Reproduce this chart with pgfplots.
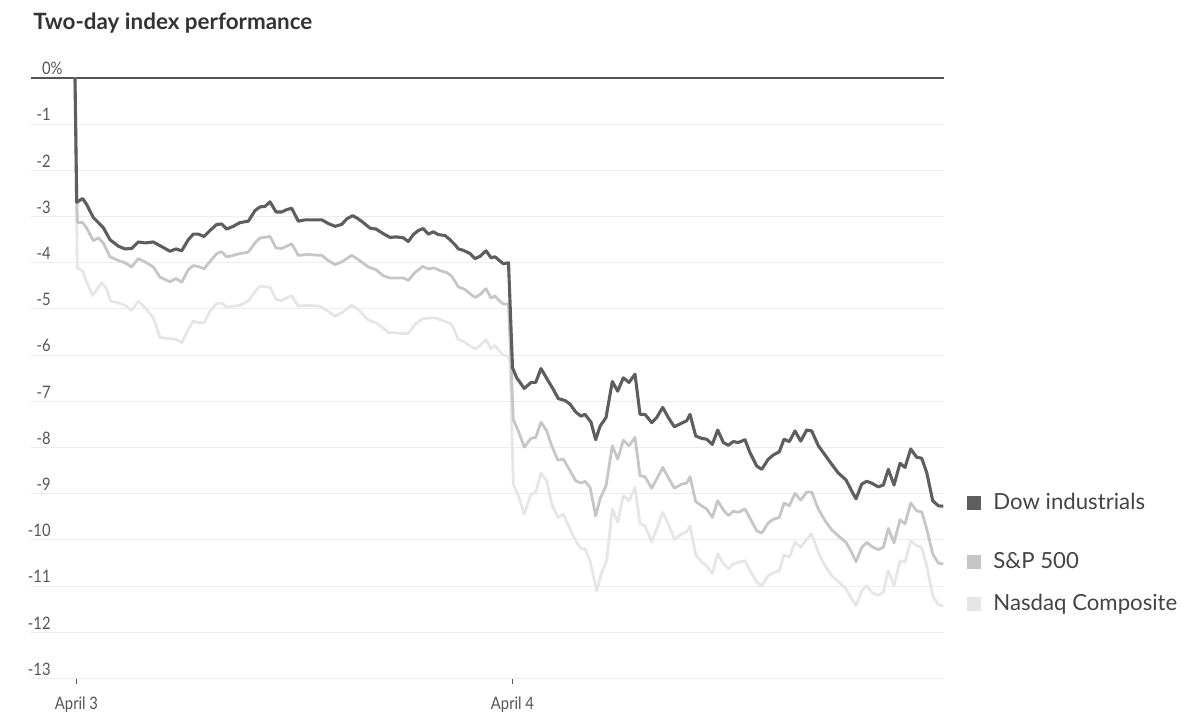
\documentclass[border=0pt]{standalone}
\usepackage{pgfplots}
\pgfplotsset{compat=1.18}
\usepackage{fontspec}
\setmainfont{Lato}
\newfontfamily\narrowfont[FakeStretch=0.86]{Lato}
\definecolor{dowc}{HTML}{5E5E5E}
\definecolor{spc}{HTML}{C6C6C6}
\definecolor{nasc}{HTML}{E6E6E6}
\definecolor{gridc}{HTML}{EDEDED}
\definecolor{zeroc}{HTML}{555555}
\definecolor{labc}{HTML}{555555}
\definecolor{titc}{HTML}{333333}
\definecolor{legc}{HTML}{444444}
\begin{document}
\begin{tikzpicture}
\path[use as bounding box] (0,0) rectangle (598.5pt,357.5pt);
\begin{axis}[
  at={(15.5pt,18.2pt)}, anchor=south west,
  scale only axis, width=456.5pt, height=300.3pt,
  xmin=-44, xmax=869, ymin=-13, ymax=0,
  axis line style={draw=none},
  ytick={-13,-12,-11,-10,-9,-8,-7,-6,-5,-4,-3,-2,-1,0},
  yticklabels={-13,-12,-11,-10,-9,-8,-7,-6,-5,-4,-3,-2,-1,0\rlap{\%}},
  ymajorgrids, grid style={draw=gridc, line width=0.5pt},
  ytick style={draw=none},
  xtick={1.5,437.5}, xticklabels={April 3,April 4},
  xtick pos=bottom,
  xtick style={draw=labc, line width=0.5pt},
  tick align=outside, major tick length=2.5pt,
  xticklabel style={font=\narrowfont\fontsize{8.6}{10}\selectfont, text=labc, anchor=north, yshift=-3pt},
  yticklabel style={font=\narrowfont\fontsize{8.6}{10}\selectfont, text=labc, anchor=base east, inner sep=0pt, xshift=12.5pt, yshift=1.6pt},
  clip=false,
]
\addplot[draw=zeroc, line width=1pt] coordinates {(-44,0) (869,0)};
% Nasdaq Composite
\addplot[draw=nasc, line width=1.4pt, line join=round] coordinates {
(0,0) (2.3,-4.11) (7.7,-4.18) (11.7,-4.43) (17.7,-4.71) (21.7,-4.58) (26.7,-4.43) (31,-4.54) (35.7,-4.83) (43.3,-4.87) (50,-4.92) (56.7,-5.03) (63.3,-4.83) (70,-4.97) (78.3,-5.19) (85,-5.62) (95,-5.64) (101,-5.66) (106.7,-5.73) (113.3,-5.44) (118.3,-5.26) (123.3,-5.30) (129,-5.30) (135,-5.05) (141.7,-4.88) (146.7,-4.87) (151.7,-4.96) (158.3,-4.94) (165,-4.92) (173.3,-4.83) (180,-4.62) (185,-4.51) (195,-4.53) (201,-4.79) (206.7,-4.82) (211.7,-4.76) (216.7,-4.71) (223.3,-4.94) (231.7,-4.92) (245,-4.94) (253.3,-5.05) (260,-5.16) (266.7,-5.08) (276.7,-4.92) (283.3,-5.01) (293.3,-5.24) (301,-5.30) (308.3,-5.41) (313.3,-5.51) (328.3,-5.53) (333.3,-5.53) (340,-5.33) (347.7,-5.21) (359.3,-5.19) (366.7,-5.24) (376.7,-5.33) (383.3,-5.66) (390,-5.72) (395,-5.80) (400,-5.86) (405,-5.80) (411,-5.66) (416,-5.86) (420,-5.79) (424.3,-5.91) (428.3,-6.00) (432.7,-6.02) (435,-6.09)
(438.3,-8.79) (443.3,-9.04) (449.3,-9.44) (456,-9.01) (460.7,-8.97) (466,-8.55) (471.7,-8.72) (476.7,-9.22) (482.7,-9.51) (488.3,-9.44) (495,-9.76) (500.7,-10.02) (506,-10.19) (510,-10.19) (515,-10.45) (521.7,-11.10) (526.7,-10.70) (531.7,-10.45) (537.3,-9.32) (542.7,-9.62) (548.3,-9.04) (554,-9.15) (560,-8.86) (565,-9.65) (570,-9.69) (576.7,-10.04) (581.7,-9.76) (587.7,-9.40) (593.3,-9.65) (599.3,-9.99) (606.7,-9.87) (611.7,-9.82) (615,-9.69) (620.7,-10.32) (626.7,-10.48) (631.7,-10.56) (637.3,-10.73) (642.7,-10.30) (648.3,-10.51) (653.3,-10.62) (658.3,-10.52) (663.3,-10.48) (670,-10.45) (675,-10.66) (681.7,-10.91) (686.7,-10.99) (693.3,-10.77) (698.3,-10.71) (704.3,-10.66) (709,-10.32) (714.3,-10.37) (720,-10.05) (725.7,-10.16) (731.7,-9.98) (736.7,-9.87) (743.3,-10.27) (750,-10.56) (756.7,-10.77) (763.3,-10.90) (771,-11.06) (776.7,-11.27) (781,-11.42) (786.7,-11.10) (791.7,-10.99) (796.7,-11.13) (803.3,-11.20) (808.3,-11.13) (813.3,-10.66) (819,-10.99) (825,-10.45) (830,-10.48) (835.7,-10.02) (841.7,-10.12) (846.7,-10.17) (851.7,-10.56) (857.7,-11.20) (863.3,-11.40) (868.3,-11.43)
};
% S&P 500
\addplot[draw=spc, line width=1.4pt, line join=round] coordinates {
(0,0) (2.3,-3.13) (7.7,-3.13) (11.7,-3.25) (18.3,-3.52) (23.3,-3.46) (28.3,-3.57) (35,-3.87) (43.3,-3.95) (50,-4.00) (56.7,-4.09) (63.3,-3.91) (70,-3.98) (78.3,-4.09) (85,-4.31) (95,-4.41) (101,-4.34) (106.7,-4.42) (113.3,-4.15) (118.3,-4.06) (123.3,-4.08) (129,-4.13) (135,-3.97) (141.7,-3.80) (146.7,-3.76) (151.7,-3.87) (158.3,-3.84) (165,-3.80) (173.3,-3.77) (180,-3.57) (185,-3.46) (190,-3.45) (195,-3.43) (201,-3.68) (206.7,-3.69) (211.7,-3.64) (216.7,-3.59) (223.3,-3.84) (231.7,-3.82) (246.7,-3.84) (253.3,-3.95) (260,-4.04) (266.7,-3.98) (276.7,-3.84) (283.3,-3.93) (293.3,-4.09) (301,-4.15) (308.3,-4.28) (315,-4.33) (328.3,-4.33) (333.3,-4.38) (340,-4.21) (347.7,-4.08) (353.3,-4.13) (359.3,-4.11) (365,-4.17) (371.7,-4.21) (376.7,-4.29) (383.3,-4.52) (390,-4.58) (395,-4.67) (400,-4.75) (405,-4.69) (411,-4.56) (416,-4.76) (420,-4.72) (424.3,-4.82) (428.3,-4.89) (433.5,-4.89)
(438.3,-7.39) (443.3,-7.64) (449.3,-7.99) (456,-7.80) (460.7,-7.78) (466,-7.45) (471.7,-7.64) (476.7,-7.96) (482.7,-8.27) (488.3,-8.25) (495,-8.50) (500.7,-8.72) (506,-8.77) (510,-8.73) (515,-8.86) (520.7,-9.48) (525,-9.11) (531,-8.83) (537.3,-7.96) (542.7,-8.25) (548.3,-7.84) (554,-7.96) (560,-7.78) (565,-8.61) (570,-8.63) (576.7,-8.88) (581.7,-8.68) (587.7,-8.43) (593.3,-8.65) (599.3,-8.88) (606.7,-8.79) (611.7,-8.77) (615,-8.63) (620.7,-9.17) (626.7,-9.26) (631.7,-9.33) (637.3,-9.51) (642.7,-9.15) (648.3,-9.35) (653.3,-9.47) (658.3,-9.38) (663.3,-9.40) (670,-9.33) (675,-9.53) (681.7,-9.80) (686.7,-9.85) (693.3,-9.63) (698.3,-9.55) (704.3,-9.51) (709,-9.20) (714.3,-9.26) (720,-8.99) (725.7,-9.14) (731.7,-8.96) (736.7,-8.96) (743.3,-9.33) (750,-9.58) (756.7,-9.78) (763.3,-9.91) (771,-10.05) (776.7,-10.27) (781,-10.47) (786.7,-10.16) (791.7,-10.05) (796.7,-10.14) (803.3,-10.21) (808.3,-10.16) (813.3,-9.75) (819,-10.06) (825,-9.56) (830,-9.65) (835.7,-9.20) (841.7,-9.37) (846.7,-9.39) (851.7,-9.76) (857.7,-10.30) (863.3,-10.50) (868.3,-10.52)
};
% Dow industrials
\addplot[draw=dowc, line width=1.55pt, line join=round] coordinates {
(0,0) (1.7,-2.69) (7.7,-2.61) (11.7,-2.74) (18.3,-3.02) (28.3,-3.24) (35,-3.50) (43.3,-3.64) (50,-3.70) (56.7,-3.69) (63.3,-3.55) (70,-3.57) (78.3,-3.55) (85,-3.63) (95,-3.75) (101,-3.70) (106.7,-3.74) (113.3,-3.50) (118.3,-3.38) (123.3,-3.38) (129,-3.43) (135,-3.30) (141.7,-3.17) (146.7,-3.16) (151.7,-3.27) (158.3,-3.21) (165,-3.13) (173.3,-3.10) (180,-2.87) (185,-2.79) (190,-2.78) (195,-2.68) (201,-2.90) (206.7,-2.90) (211.7,-2.85) (216.7,-2.82) (223.3,-3.10) (230,-3.07) (246.7,-3.07) (253.3,-3.15) (260,-3.21) (266.7,-3.17) (271.7,-3.05) (277.7,-2.98) (283.3,-3.05) (288.3,-3.13) (295,-3.25) (301,-3.27) (308.3,-3.37) (315,-3.45) (321.7,-3.44) (328.3,-3.46) (333.3,-3.54) (338.3,-3.39) (343.3,-3.30) (348.3,-3.26) (353.3,-3.38) (358.3,-3.33) (363.3,-3.39) (370,-3.41) (375,-3.50) (380,-3.61) (383.3,-3.70) (388.3,-3.73) (395,-3.80) (400,-3.91) (405,-3.86) (411,-3.74) (416,-3.89) (420,-3.87) (424.3,-3.95) (428.3,-4.02) (433.5,-4.00)
(437.5,-6.27) (441.7,-6.49) (449.3,-6.72) (456,-6.59) (460.7,-6.59) (466,-6.29) (473.3,-6.56) (478.3,-6.74) (483.3,-6.94) (490,-6.98) (495,-7.06) (500.7,-7.23) (506,-7.32) (510,-7.28) (516,-7.45) (520.7,-7.83) (525,-7.54) (531,-7.35) (537.3,-6.57) (542.7,-6.78) (548.3,-6.49) (554,-6.59) (560,-6.41) (565,-7.28) (570,-7.28) (576.7,-7.46) (581.7,-7.35) (587.7,-7.13) (593.3,-7.35) (599.3,-7.55) (606.7,-7.47) (611.7,-7.42) (615,-7.28) (620.7,-7.75) (626.7,-7.80) (631.7,-7.82) (637.3,-7.93) (642.7,-7.62) (648.3,-7.89) (653.3,-7.95) (658.3,-7.87) (663.3,-7.89) (670,-7.83) (675,-8.11) (681.7,-8.40) (686.7,-8.47) (693.3,-8.25) (698.3,-8.16) (704.3,-8.09) (709,-7.82) (714.3,-7.87) (720,-7.64) (725.7,-7.86) (731.7,-7.62) (736.7,-7.64) (743.3,-7.96) (750,-8.16) (756.7,-8.36) (763.3,-8.55) (771,-8.70) (776.7,-8.94) (781,-9.11) (786.7,-8.79) (791.7,-8.73) (796.7,-8.77) (803.3,-8.85) (808.3,-8.81) (813.3,-8.47) (819,-8.81) (825,-8.34) (830,-8.43) (835.7,-8.03) (841.7,-8.21) (846.7,-8.23) (851.7,-8.54) (857.7,-9.15) (863.3,-9.26) (868.3,-9.27)
};
\end{axis}
% title
\node[anchor=base west, inner sep=0pt, text=titc, font=\bfseries\fontsize{11.2}{13}\selectfont] at (16.5pt,342.5pt) {Two-day index performance};
% legend
\fill[dowc] (483.5pt,102.5pt) rectangle ++(7pt,7pt);
\node[anchor=base west, inner sep=0pt, text=legc, font=\fontsize{11.1}{13}\selectfont] at (496.5pt,102.5pt) {Dow industrials};
\fill[spc] (483.5pt,73pt) rectangle ++(7pt,7pt);
\node[anchor=base west, inner sep=0pt, text=legc, font=\fontsize{11.1}{13}\selectfont] at (496.5pt,73pt) {S\&P 500};
\fill[nasc] (483.5pt,52pt) rectangle ++(7pt,7pt);
\node[anchor=base west, inner sep=0pt, text=legc, font=\fontsize{11.1}{13}\selectfont] at (496.5pt,52pt) {Nasdaq Composite};
\end{tikzpicture}
\end{document}
